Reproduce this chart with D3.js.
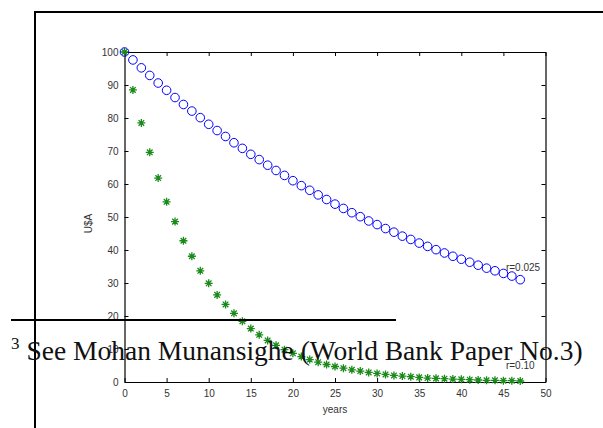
<!DOCTYPE html>
<html>
<head>
<meta charset="utf-8">
<script src="https://cdn.jsdelivr.net/npm/d3@7"></script>
<style>
  body { margin: 0; background: #fff; }
  .tick text { font-family: "Liberation Sans", Arial, sans-serif; font-size: 10px; fill: #333; }
  .axis-label { font-family: "Liberation Sans", Arial, sans-serif; font-size: 10px; fill: #333; }
</style>
</head>
<body>
<div id="chart"></div>
<script>
// years 0..47
const years = d3.range(0, 48);

// present value of 100 US$, r = 0.025 (blue circles)
const valuesLow = [100, 97.6, 95.2, 92.9, 90.6, 88.4, 86.2, 84.1, 82.1, 80.1,
  78.1, 76.2, 74.4, 72.5, 70.8, 69.0, 67.4, 65.7, 64.1, 62.6,
  61.0, 59.5, 58.1, 56.7, 55.3, 53.9, 52.6, 51.3, 50.1, 48.8,
  47.7, 46.5, 45.4, 44.2, 43.2, 42.1, 41.1, 40.1, 39.1, 38.1,
  37.2, 36.3, 35.4, 34.5, 33.7, 32.9, 32.1, 31.0];

// present value of 100 US$, r = 0.10 (green stars)
const valuesHigh = [100, 88.5, 78.5, 69.6, 61.8, 54.6, 48.6, 42.8, 38.1, 33.7,
  29.9, 26.4, 23.5, 20.8, 18.4, 16.2, 14.3, 12.6, 11.1, 9.8,
  8.7, 7.7, 6.8, 6.0, 5.3, 4.7, 4.2, 3.7, 3.3, 2.9,
  2.6, 2.3, 2.0, 1.8, 1.6, 1.4, 1.2, 1.1, 1.0, 0.9,
  0.8, 0.7, 0.6, 0.5, 0.5, 0.4, 0.4, 0.3];

const xTicks = [0, 5, 10, 15, 20, 25, 30, 35, 40, 45, 50];
const yTicks = [0, 10, 20, 30, 40, 50, 60, 70, 80, 90, 100];

const seriesLabels = ["r=0.025", "r=0.10"];
const footnote = "See Mohan Munansighe (World Bank Paper No.3)";

const width = 603, height = 428;
const margin = { top: 52, right: 57.5, bottom: 46, left: 124.5 };
const innerWidth = width - margin.left - margin.right;
const innerHeight = height - margin.top - margin.bottom;

const svg = d3.select("#chart")
  .append("svg")
  .attr("width", width)
  .attr("height", height);

// page frame lines (document edge)
svg.append("line")
  .attr("x1", 35).attr("y1", 12).attr("x2", 35).attr("y2", height)
  .attr("stroke", "#000").attr("stroke-width", 2);
svg.append("line")
  .attr("x1", 34).attr("y1", 12).attr("x2", width).attr("y2", 12)
  .attr("stroke", "#000").attr("stroke-width", 2);

const inner = svg.append("g")
  .attr("transform", `translate(${margin.left}, ${margin.top})`);

const x = d3.scaleLinear().domain([0, 50]).range([0, innerWidth]);
const y = d3.scaleLinear().domain([0, 100]).range([innerHeight, 0]);

// axes: labels bottom/left, inward ticks on all four sides
const styleAxis = g => {
  g.select(".domain").attr("stroke", "#000").attr("stroke-width", 1.2);
  g.selectAll(".tick line").attr("stroke", "#000");
};

inner.append("g")
  .attr("transform", `translate(0, ${innerHeight})`)
  .call(d3.axisBottom(x).tickValues(xTicks).tickSizeInner(-4).tickSizeOuter(0).tickPadding(8))
  .call(styleAxis)
  .call(g => g.selectAll(".tick text").attr("dy", "0.71em"));

inner.append("g")
  .call(d3.axisLeft(y).tickValues(yTicks).tickSizeInner(-4).tickSizeOuter(0).tickPadding(6))
  .call(styleAxis);

inner.append("g")
  .call(d3.axisTop(x).tickValues(xTicks).tickSizeInner(-4).tickSizeOuter(0).tickFormat(""))
  .call(styleAxis);

inner.append("g")
  .attr("transform", `translate(${innerWidth}, 0)`)
  .call(d3.axisRight(y).tickValues(yTicks).tickSizeInner(-4).tickSizeOuter(0).tickFormat(""))
  .call(styleAxis);

// r = 0.10 stars
const star = "M-4,0H4M0,-4V4M-2.8,-2.8L2.8,2.8M-2.8,2.8L2.8,-2.8";
inner.selectAll("path.star")
  .data(years)
  .join("path")
  .attr("class", "star")
  .attr("transform", d => `translate(${x(d)}, ${y(valuesHigh[d])})`)
  .attr("d", star)
  .attr("fill", "none")
  .attr("stroke", "#1a8a1a")
  .attr("stroke-width", 1.3);

// r = 0.025 circles
inner.selectAll("circle")
  .data(years)
  .join("circle")
  .attr("cx", d => x(d))
  .attr("cy", d => y(valuesLow[d]))
  .attr("r", 4.3)
  .attr("fill", "none")
  .attr("stroke", "#0000ff")
  .attr("stroke-width", 1);

// series labels at the end of each curve
inner.append("text")
  .attr("class", "axis-label")
  .attr("x", x(45.3))
  .attr("y", y(valuesLow[45]) - 2)
  .text(seriesLabels[0]);
inner.append("text")
  .attr("class", "axis-label")
  .attr("x", x(45.3))
  .attr("y", y(4.0))
  .text(seriesLabels[1]);

// axis titles
svg.append("text")
  .attr("class", "axis-label")
  .attr("text-anchor", "middle")
  .attr("x", margin.left + x(25))
  .attr("y", 413)
  .text("years");

svg.append("text")
  .attr("class", "axis-label")
  .attr("text-anchor", "middle")
  .attr("transform", `translate(92, ${margin.top + y(48)}) rotate(-90)`)
  .text("U$A");

// footnote from the surrounding document
svg.append("line")
  .attr("x1", 11).attr("y1", 320).attr("x2", 396).attr("y2", 320)
  .attr("stroke", "#000").attr("stroke-width", 2);

const note = svg.append("text")
  .attr("x", 11)
  .attr("y", 360)
  .attr("font-family", "'Liberation Serif', 'Times New Roman', serif")
  .attr("font-size", 27.5)
  .attr("fill", "#111");
note.append("tspan")
  .attr("font-size", 17)
  .attr("dy", -11)
  .text("3");
note.append("tspan")
  .attr("dx", 7)
  .attr("dy", 11)
  .text(footnote);
</script>
</body>
</html>
